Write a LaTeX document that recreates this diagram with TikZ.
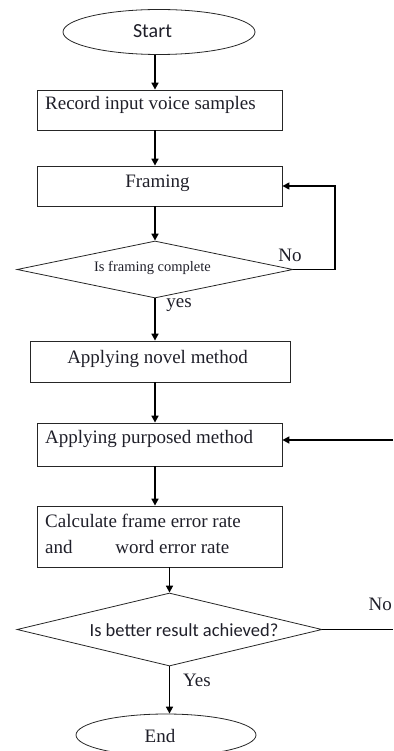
\documentclass[tikz,border=0pt]{standalone}
\usepackage{fontspec}
\setmainfont{Liberation Serif}
\newfontfamily\calib{Carlito}
\usetikzlibrary{shapes.geometric,arrows.meta}
\definecolor{ink}{rgb}{0.12,0.12,0.16}
\tikzset{x=1pt,y=-1pt,
  box/.style={draw=black!85,line width=0.8pt,minimum width=245pt,minimum height=40pt,inner sep=0pt},
  term/.style={ellipse,draw=black!85,line width=0.8pt,inner sep=0pt},
  dec/.style={diamond,draw=black!85,line width=0.8pt,inner sep=0pt},
  txt/.style={inner sep=0pt,text=ink,font=\fontsize{19}{23}\selectfont},
  arr/.style={-{Triangle[length=7pt,width=7pt]},line width=1.6pt},
  link/.style={line width=1pt}}
\begin{document}
\begin{tikzpicture}
    \useasboundingbox (0,0) rectangle (393,751);
    \clip (0,0) rectangle (393,751);
    \coordinate (ax) at (155,0);
    \coordinate (bx) at (169.5,0);
    \coordinate (lp) at (335,0);
    % shapes
    \node[term,minimum width=192pt,minimum height=45pt] (start) at (159,32) {};
    \node[box] (rec) at (159.5,110) {};
    \node[box] (fram) at (159.5,186) {};
    \node[dec,minimum width=276pt,minimum height=57pt] (dec1) at (155,269.5) {};
    \node[box,minimum width=260pt,minimum height=41pt] (novel) at (160,361.5) {};
    \node[box,minimum height=43pt] (purp) at (159.5,444.5) {};
    \node[box,minimum height=61pt] (calc) at (159.5,536.5) {};
    \node[dec,minimum width=305pt,minimum height=73pt] (dec2) at (169.5,629.5) {};
    \node[term,minimum width=180pt,minimum height=42pt] (stop) at (166,735) {};
    % texts
    \node[txt,anchor=base,font=\calib\fontsize{20}{24}\selectfont] (starttxt) at (152.5,38) {Start};
    \node[txt,anchor=base west] (rectxt) at (45,110) {Record input voice samples};
    \node[txt,anchor=base] (framtxt) at (157.5,188) {Framing};
    \node[txt,anchor=base,font=\fontsize{14.5}{17}\selectfont] (dec1txt) at (152.5,271) {Is framing complete};
    \node[txt,anchor=base] (noveltxt) at (157.5,363) {Applying novel method};
    \node[txt,anchor=base west] (purptxt) at (45,443) {Applying purposed method};
    \node[txt,anchor=base west] (calctxta) at (45,527) {Calculate frame error rate};
    \node[txt,anchor=base west] (calctxtb) at (45,553) {and\hspace{38pt} word error rate};
    \node[txt,anchor=base,font=\calib\fontsize{18.5}{22}\selectfont] (dec2txt) at (184,636) {Is better result achieved?};
    \node[txt,anchor=base] (stoptxt) at (160,742) {End};
    \node[txt,anchor=base] (nolbla) at (290,261) {No};
    \node[txt,anchor=base] (yeslbla) at (179,307) {yes};
    \node[txt,anchor=base] (yeslblb) at (197,686) {Yes};
    \node[txt,anchor=base east] (nolblb) at (392,610) {No};
    % connectors
    \draw[arr] (start.south -| ax) -- (rec.north -| ax);
    \draw[arr] (rec.south -| ax) -- (fram.north -| ax);
    \draw[arr] (fram.south -| ax) -- (dec1.north);
    \draw[arr] (dec1.south) -- (novel.north -| ax);
    \draw[arr] (novel.south -| ax) -- (purp.north -| ax);
    \draw[arr] (purp.south -| ax) -- (calc.north -| ax);
    \draw[arr] (calc.south -| bx) -- (dec2.north);
    \draw[arr] (dec2.south) -- (stop.north -| bx);
    \draw[link] (dec1.east) -- (dec1.east -| lp);
    \draw[arr,line width=1.3pt] (dec1.east -| lp) -- (fram.east -| lp) -- (fram.east);
    \coordinate (rin) at (393,440);
    \draw[arr] (rin) -- (rin -| purp.east);
    \coordinate (rout) at (393,629.5);
    \draw[link] (dec2.east) -- (rout);
\end{tikzpicture}
\end{document}
